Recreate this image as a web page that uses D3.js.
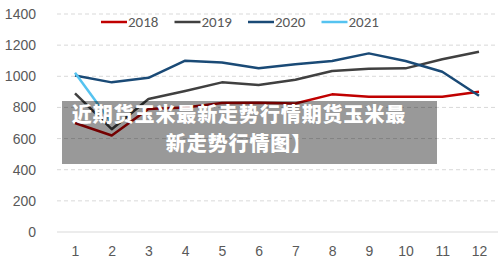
<!DOCTYPE html>
<html>
<head>
<meta charset="utf-8">
<script src="https://cdn.jsdelivr.net/npm/d3@7"></script>
<style>
  body { margin: 0; background: #fff; }
  svg { display: block; font-family: Calibri, "Liberation Sans", "Open Sans", sans-serif; }
</style>
</head>
<body>
<script>
// data
var months = [1, 2, 3, 4, 5, 6, 7, 8, 9, 10, 11, 12];
var years = ["2018", "2019", "2020", "2021"];
var y2018 = [700, 620, 790, 800, 828, 830, 825, 884, 869, 869, 869, 900];
var y2019 = [890, 660, 854, 905, 961, 944, 978, 1034, 1048, 1051, 1109, 1158];
var y2020 = [1005, 961, 990, 1100, 1089, 1051, 1078, 1098, 1147, 1098, 1029, 875];
var y2021 = [1023, 700];
var yTicks = [0, 200, 400, 600, 800, 1000, 1200, 1400];
var colors = ["#c00000", "#404040", "#1a4a76", "#55c3f0"];
var overlayLines = ["近期货玉米最新走势行情期货玉米最", "新走势行情图】"];

var width = 500, height = 266;

var svg = d3.select("body").append("svg")
  .attr("width", width)
  .attr("height", height);

var x = d3.scaleLinear().domain([1, 12]).range([75, 479]);
var y = d3.scaleLinear().domain([0, 1400]).range([232, 14]);

// grid lines
svg.append("g")
  .selectAll("line")
  .data(yTicks)
  .join("line")
  .attr("x1", 57)
  .attr("x2", 498)
  .attr("y1", d => y(d))
  .attr("y2", d => y(d))
  .attr("stroke", "#d9d9d9")
  .attr("stroke-width", 1)
  .attr("stroke-dasharray", d => d === 0 ? null : "4,3");

// y axis labels
var yAxis = svg.append("g")
  .attr("transform", "translate(36,0)")
  .call(d3.axisLeft(y).tickValues(yTicks).tickFormat(d3.format("d")).tickSize(0).tickPadding(0));
yAxis.select(".domain").remove();
yAxis.selectAll("text")
  .attr("fill", "#595959")
  .style("font-size", "14px");

// x axis labels
var xAxis = svg.append("g")
  .attr("transform", "translate(0,246)")
  .call(d3.axisBottom(x).tickValues(months).tickSize(0).tickPadding(0));
xAxis.select(".domain").remove();
xAxis.selectAll("text")
  .attr("fill", "#595959")
  .style("font-size", "14px");

// lines
var series = [y2018, y2019, y2020, y2021];
var line = d3.line()
  .x((d, i) => x(months[i]))
  .y(d => y(d));

svg.append("g")
  .selectAll("path")
  .data(series)
  .join("path")
  .attr("d", d => line(d))
  .attr("fill", "none")
  .attr("stroke", (d, i) => colors[i])
  .attr("stroke-width", 2.5)
  .attr("stroke-linejoin", "round");

// legend
var legend = svg.append("g")
  .selectAll("g")
  .data(years)
  .join("g")
  .attr("transform", (d, i) => "translate(" + (101 + i * 73.5) + ",22)");
legend.append("line")
  .attr("x1", 0).attr("x2", 26)
  .attr("stroke", (d, i) => colors[i])
  .attr("stroke-width", 2.5);
legend.append("text")
  .attr("x", 27)
  .attr("dy", "0.35em")
  .attr("fill", "#595959")
  .style("font-size", "15px")
  .text(d => d);

// grey caption overlay
svg.append("rect")
  .attr("x", 62).attr("y", 101)
  .attr("width", 375).attr("height", 63)
  .attr("fill", "rgba(0,0,0,0.4)");

svg.append("g")
  .selectAll("text")
  .data(overlayLines)
  .join("text")
  .attr("x", 239)
  .attr("y", (d, i) => 115 + i * 29)
  .attr("dy", "0.35em")
  .attr("text-anchor", "middle")
  .attr("fill", "#fff")
  .style("font-family", "'Noto Sans CJK SC', sans-serif")
  .style("font-weight", "900")
  .style("font-size", "20px")
  .style("letter-spacing", "0.9px")
  .text(d => d);
</script>
</body>
</html>
